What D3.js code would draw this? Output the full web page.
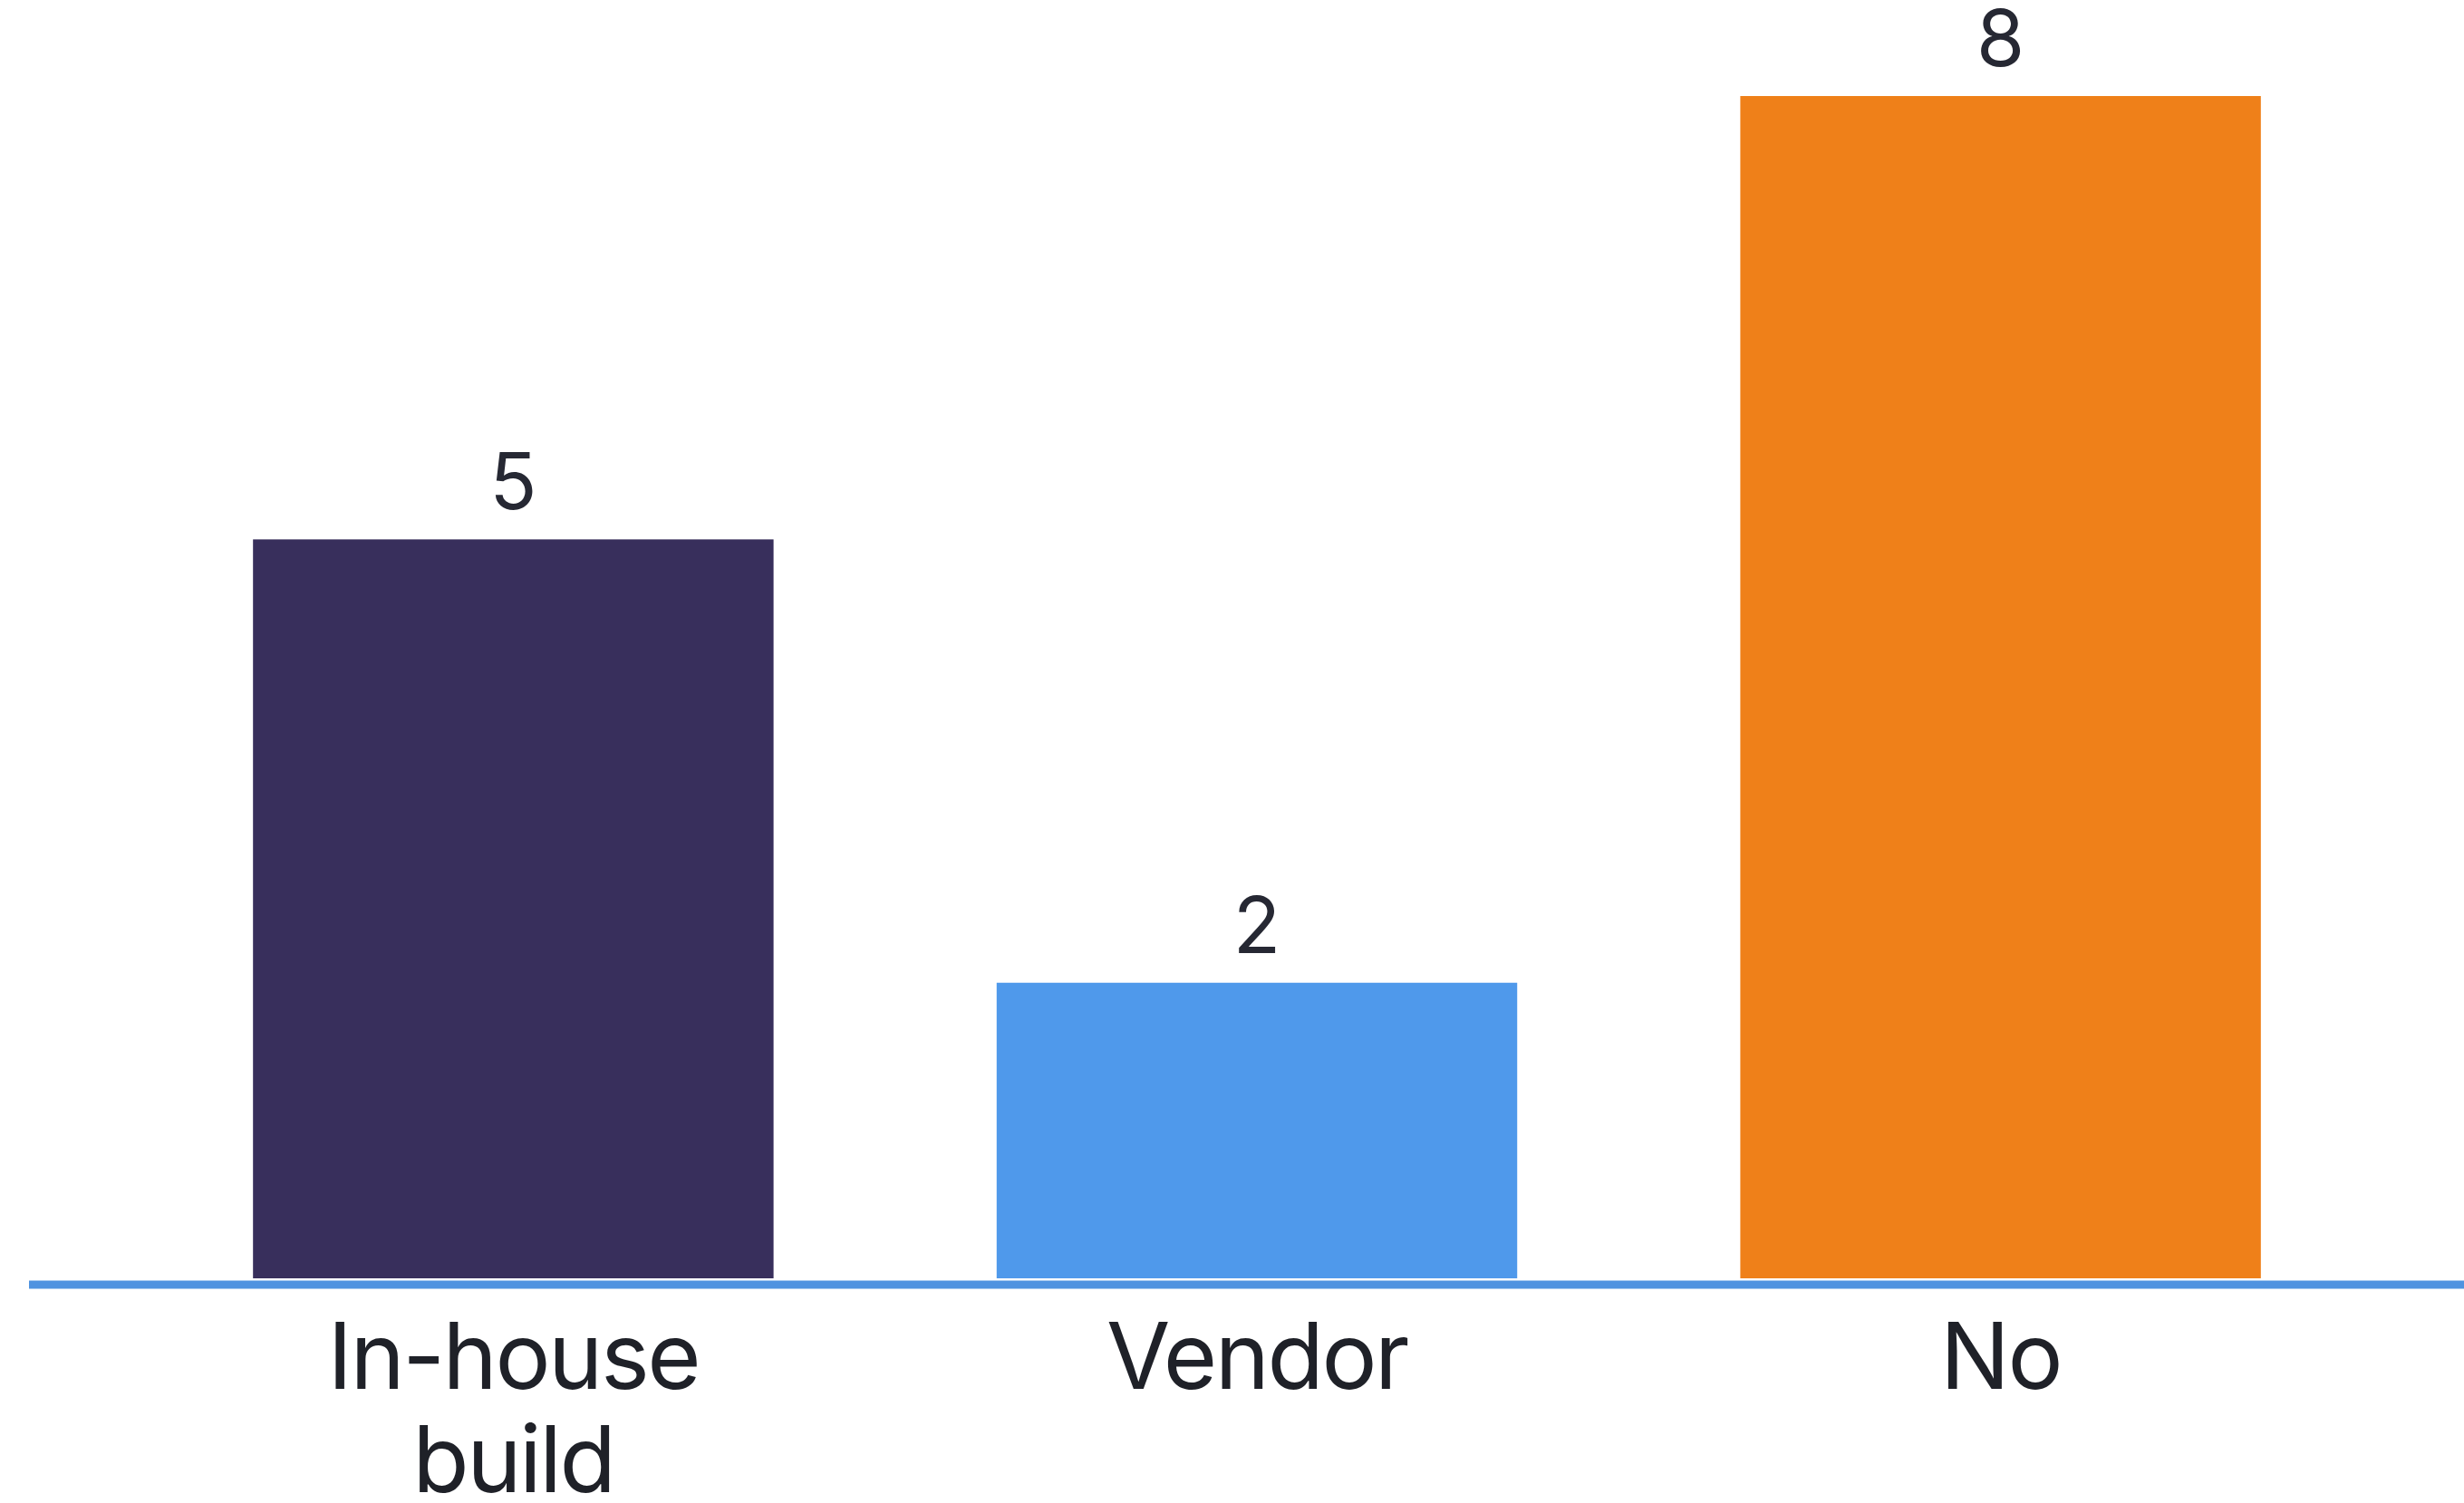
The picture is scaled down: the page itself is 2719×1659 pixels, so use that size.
<!DOCTYPE html>
<html>
<head>
<meta charset="utf-8">
<script src="https://cdn.jsdelivr.net/npm/d3@7"></script>
<style>
  html, body { margin: 0; padding: 0; background: #ffffff; }
  svg { display: block; }
</style>
</head>
<body>
<script>
// Survey answers and their counts
const categories = ["In-house build", "Vendor", "No"];
const labelLines = [["In-house", "build"], ["Vendor"], ["No"]];
const counts = [5, 2, 8];
const barColors = ["#382f5c", "#4f99eb", "#ef8019"];

const W = 2719, H = 1659;
const baseline = 1411;

const svg = d3.select("body").append("svg")
  .attr("width", W).attr("height", H);

svg.append("rect").attr("width", W).attr("height", H).attr("fill", "#ffffff");

const x = d3.scaleBand()
  .domain(categories)
  .range([33, 2741])
  .paddingInner(0.3)
  .paddingOuter(0.3);

const y = d3.scaleLinear()
  .domain([0, 8])
  .range([baseline, 106]);

const font = "Inter, 'Open Sans', sans-serif";

// bars
svg.selectAll("rect.bar")
  .data(categories)
  .join("rect")
  .attr("class", "bar")
  .attr("x", d => x(d))
  .attr("width", x.bandwidth())
  .attr("y", (d, i) => y(counts[i]))
  .attr("height", (d, i) => y(0) - y(counts[i]))
  .attr("fill", (d, i) => barColors[i]);

// value labels above bars
svg.selectAll("text.value")
  .data(categories)
  .join("text")
  .attr("class", "value")
  .attr("x", d => x(d) + x.bandwidth() / 2)
  .attr("y", (d, i) => y(counts[i]) - 33)
  .attr("text-anchor", "middle")
  .attr("font-family", font)
  .attr("font-size", 86)
  .attr("fill", "#262833")
  .text((d, i) => counts[i]);

// baseline axis
svg.append("line")
  .attr("x1", 32).attr("x2", W)
  .attr("y1", baseline + 7).attr("y2", baseline + 7)
  .attr("stroke", "#4f93e0")
  .attr("stroke-width", 9);

// category labels
const cat = svg.selectAll("text.cat")
  .data(categories)
  .join("text")
  .attr("class", "cat")
  .attr("x", d => x(d) + x.bandwidth() / 2)
  .attr("y", 1533)
  .attr("text-anchor", "middle")
  .attr("font-family", font)
  .attr("font-size", 102)
  .attr("letter-spacing", -2.5)
  .attr("fill", "#1f2128");

cat.each(function(d, i) {
  const t = d3.select(this);
  labelLines[i].forEach((line, j) => {
    t.append("tspan")
      .attr("x", x(d) + x.bandwidth() / 2)
      .attr("dy", j === 0 ? 0 : 114)
      .text(line);
  });
});
</script>
</body>
</html>
